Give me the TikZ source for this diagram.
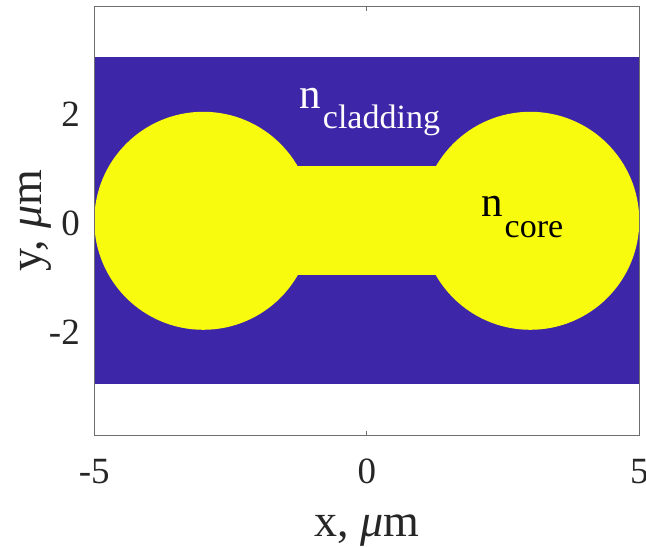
\documentclass[tikz,border=0pt]{standalone}
\usepackage{fontspec}
\setmainfont{Liberation Serif}
\definecolor{pblue}{RGB}{62,38,168}
\definecolor{pyellow}{RGB}{249,251,14}
\definecolor{axisgray}{RGB}{38,38,38}
\definecolor{framegray}{RGB}{110,110,110}
\tikzset{
  ticklab/.style={font=\fontsize{37}{37}\selectfont, text=axisgray, inner sep=0pt},
  axlab/.style={font=\fontsize{46}{46}\selectfont, text=axisgray, inner sep=0pt},
  reglab/.style={font=\fontsize{43}{43}\selectfont, inner sep=0pt, anchor=base west},
  frameline/.style={draw=framegray, line width=0.8pt},
}
\newcommand{\subtxt}[1]{\kern2pt\raisebox{-20.5pt}{\fontsize{34}{34}\selectfont #1}}
\begin{document}
\begin{tikzpicture}[x=54.5pt,y=54.5pt]
\useasboundingbox (-6.730,-5.985) rectangle (5.123,4.051);
% axes background
\fill[white] (-5,-3.94) rectangle (5,3.94);
% cladding
\fill[pblue] (-5,-3) rectangle (5,3);
% core
\fill[pyellow] (-3,0) circle (2);
\fill[pyellow] (3,0) circle (2);
\fill[pyellow] (-3,-1) rectangle (3,1);
% frame and ticks
\draw[frameline] (-5,-3.94) rectangle (5,3.94);
\draw[frameline] (0,-3.94) -- (0,-3.848);
\draw[frameline] (0,3.94) -- (0,3.848);
% tick labels
\node[ticklab, anchor=east] (yt2) at (-5.262, 1.955) {2};
\node[ticklab, anchor=east] (yt0) at (-5.262,-0.045) {0};
\node[ticklab, anchor=east] (ytm2) at (-5.262,-2.045) {-2};
\node[ticklab] (xtm5) at (-5,-4.60) {-5};
\node[ticklab] (xt0) at (0,-4.60) {0};
\node[ticklab] (xt5) at (5,-4.60) {5};
% axis labels
\node[axlab, anchor=base] (xlab) at (0,-5.796) {x, {\itshape μ}m};
\node[axlab, anchor=base, rotate=90] (ylab) at (-5.965,0) {y, {\itshape μ}m};
% region labels
\node[reglab, text=white] (nclad) at (-1.24,2.064) {n\subtxt{cladding}};
\node[reglab, text=black] (ncore) at (2.095,0.075) {n\subtxt{core}};
\end{tikzpicture}
\end{document}
